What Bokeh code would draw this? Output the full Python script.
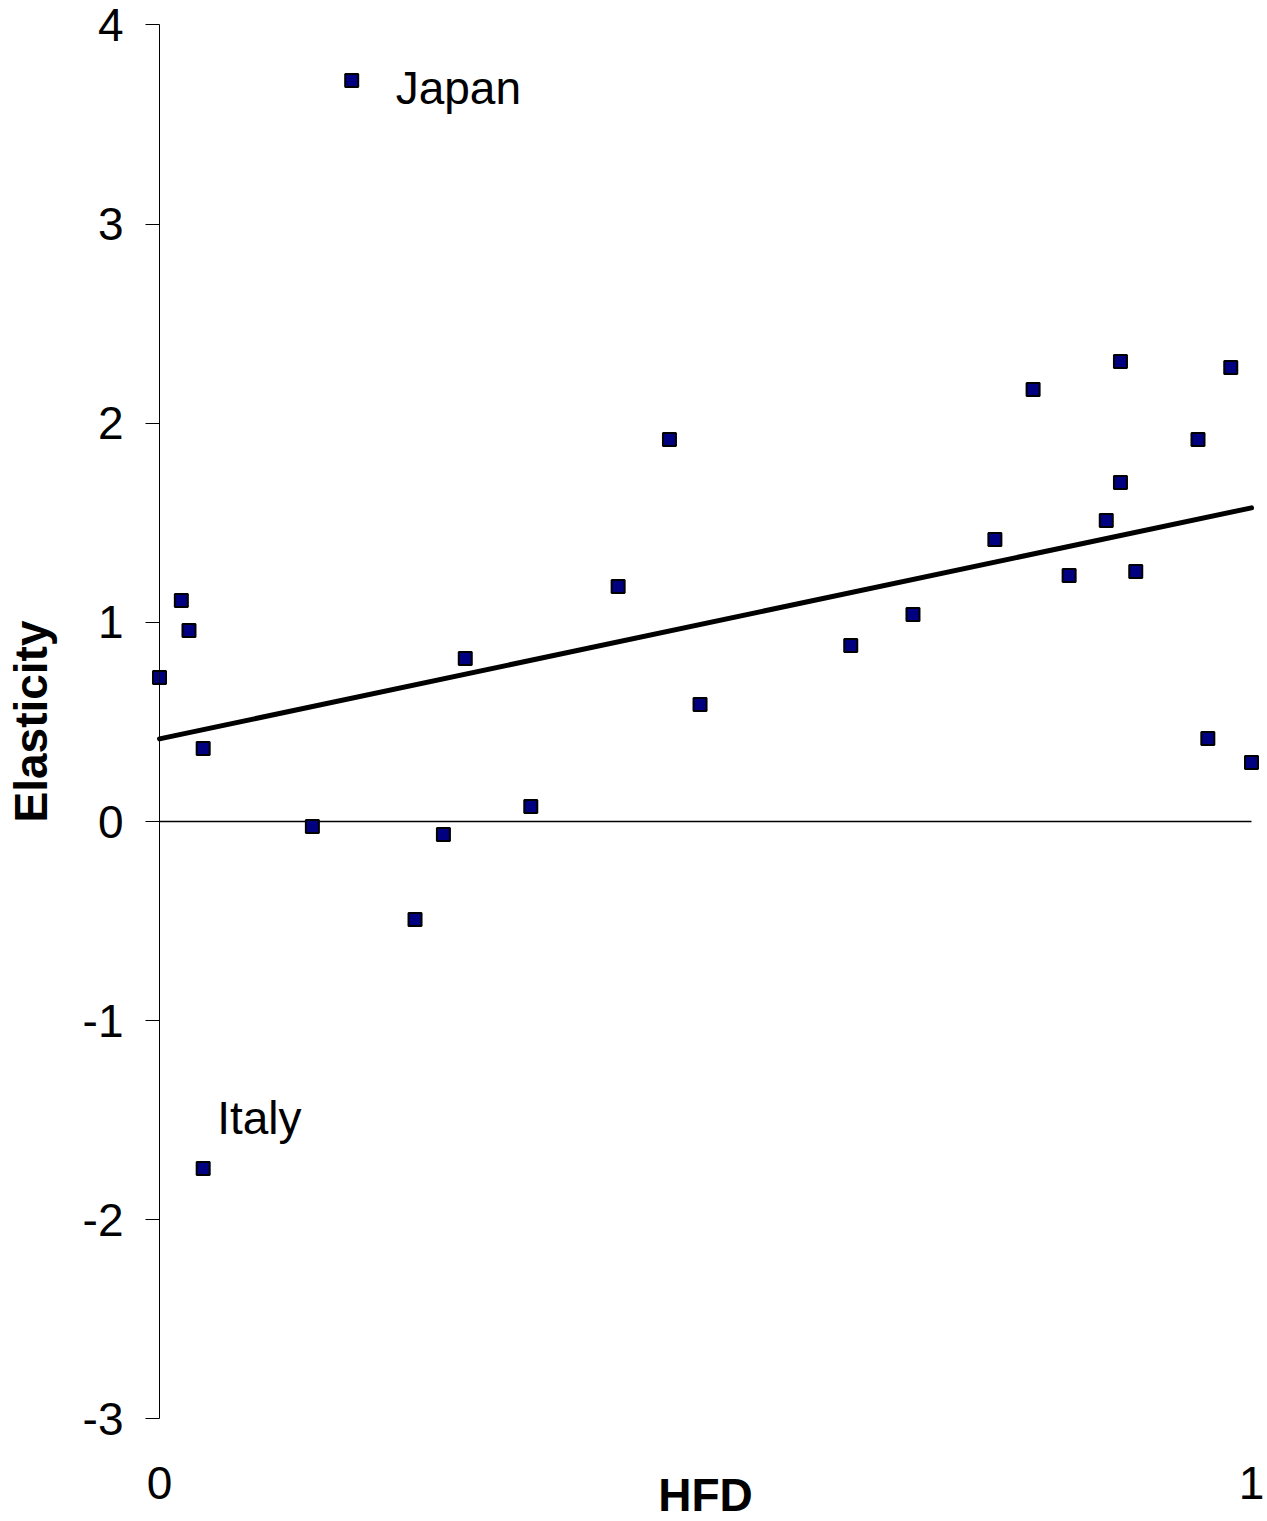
from bokeh.plotting import figure
from bokeh.models import Range1d, FixedTicker, ColumnDataSource
from bokeh.embed import file_html
from bokeh.resources import INLINE
from bokeh.core.properties import value

# ---- data ----
hfd = [0.000, 0.020, 0.027, 0.040, 0.040, 0.140, 0.176, 0.234, 0.260, 0.280,
       0.340, 0.420, 0.467, 0.495, 0.633, 0.690, 0.765, 0.800, 0.833, 0.867,
       0.880, 0.880, 0.894, 0.951, 0.960, 0.981, 1.000]
elasticity = [0.723, 1.110, 0.959, 0.367, -1.742, -0.025, 3.721, -0.492, -0.065, 0.819,
              0.075, 1.180, 1.918, 0.588, 0.884, 1.039, 1.416, 2.169, 1.235, 1.511,
              2.310, 1.702, 1.255, 1.918, 0.417, 2.280, 0.296]

label_country = ["Japan", "Italy"]
label_hfd = [0.176, 0.040]
label_elasticity = [3.721, -1.742]

trend_hfd = [0.0, 1.0]
trend_elasticity = [0.415, 1.575]

x_ticks = [0, 1]
y_ticks = [-3, -2, -1, 0, 1, 2, 3, 4]
y_tick_labels = {t: str(t) for t in y_ticks}   # plain hyphen minus

FONT = "Liberation Sans"

# layout: pixels per unit (x: 1092 px for 0..1, y: 1394 px for -3..4)
XS = 1092.0
YS = 1394.0 / 7.0
W, H = 1267, 1521
X0_PX, Y0_PX = 159, 821      # where x=0 and y=0 sit on the canvas

p = figure(width=W, height=H,
           x_range=Range1d(-X0_PX / XS, (W - X0_PX) / XS),
           y_range=Range1d(-(H - Y0_PX) / YS, Y0_PX / YS),
           output_backend="svg", toolbar_location=None)
p.min_border = 0
p.outline_line_color = None
p.grid.visible = False
p.background_fill_color = "white"
p.border_fill_color = "white"

# y axis through x = 0
ya = p.yaxis[0]
ya.fixed_location = 0
ya.bounds = (y_ticks[0], y_ticks[-1])
ya.ticker = FixedTicker(ticks=y_ticks)
ya.major_label_overrides = y_tick_labels
ya.axis_line_color = "black"
ya.axis_line_width = 1
ya.major_tick_out = 14
ya.major_tick_in = 0
ya.major_tick_line_color = "black"
ya.minor_tick_line_color = None
ya.major_label_standoff = 22
ya.major_label_text_font = FONT
ya.major_label_text_font_size = "46px"
ya.major_label_text_color = "black"
ya.axis_label = "Elasticity"
ya.axis_label_standoff = 23
ya.axis_label_text_font = FONT
ya.axis_label_text_font_size = "46px"
ya.axis_label_text_font_style = "bold"
ya.axis_label_text_color = "black"

# x axis at y = -3: only tick labels + title
xa = p.xaxis[0]
xa.fixed_location = y_ticks[0]
xa.bounds = (x_ticks[0], x_ticks[-1])
xa.ticker = FixedTicker(ticks=x_ticks)
xa.axis_line_color = None
xa.major_tick_line_color = None
xa.minor_tick_line_color = None
xa.major_label_standoff = 42
xa.major_label_text_font = FONT
xa.major_label_text_font_size = "46px"
xa.major_label_text_color = "black"
xa.axis_label = "HFD"
xa.axis_label_standoff = -33
xa.axis_label_text_font = FONT
xa.axis_label_text_font_size = "46px"
xa.axis_label_text_font_style = "bold"
xa.axis_label_text_color = "black"

# zero line
p.line(x=[x_ticks[0], x_ticks[-1]], y=[0, 0], line_color="black", line_width=1.5)

# trend line
p.line(x=trend_hfd, y=trend_elasticity, line_color="black", line_width=5, line_cap="round")

# points
p.scatter(x=hfd, y=elasticity, marker="square", size=13,
          fill_color="#000080", line_color="black", line_width=2)

# country labels
lab_src = ColumnDataSource(dict(x=label_hfd, y=label_elasticity, t=label_country,
                                xo=[44, 14], yo=[8, -50]))
p.text(x="x", y="y", text="t", x_offset="xo", y_offset="yo", source=lab_src,
       text_font=value(FONT), text_font_size="46px", text_color="black",
       text_baseline="alphabetic", text_align="left")

open("out.html", "w").write(file_html(p, INLINE))
